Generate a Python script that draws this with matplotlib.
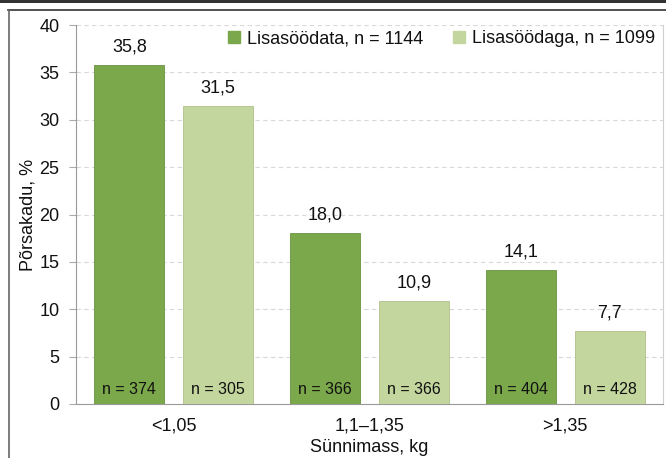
import matplotlib
matplotlib.use("Agg")
import matplotlib.pyplot as plt
import numpy as np
from matplotlib.patches import Rectangle
from matplotlib.lines import Line2D

categories = ["<1,05", "1,1\u20131,35", ">1,35"]
series_names = ["Lisasöödata, n = 1144", "Lisasöödaga, n = 1099"]
without_feed = [35.8, 18.0, 14.1]
with_feed = [31.5, 10.9, 7.7]
n_without = [374, 366, 404]
n_with = [305, 366, 428]
y_ticks = [0, 5, 10, 15, 20, 25, 30, 35, 40]

dark = "#7aa84a"
light = "#c3d69d"

plt.rcParams['font.family'] = ['Liberation Sans', 'DejaVu Sans']
txt = "#111111"

fig = plt.figure(figsize=(6.66, 4.58), dpi=100)
W, H = 666, 458
ax = fig.add_axes([76 / W, 1 - 404 / H, (663 - 76) / W, (404 - 25) / H])

x = np.arange(len(categories))
bw = 0.357
off = 0.227
b1 = ax.bar(x - off, without_feed, bw, color=dark, edgecolor="#6a9440", linewidth=0.6, zorder=3)
b2 = ax.bar(x + off, with_feed, bw, color=light, edgecolor="#aebf8a", linewidth=0.6, zorder=3)

for bars, vals, ns in ((b1, without_feed, n_without), (b2, with_feed, n_with)):
    for r, v, n in zip(bars, vals, ns):
        cx = r.get_x() + r.get_width() / 2
        ax.text(cx, v + 1.0, f"{v:.1f}".replace(".", ","), ha="center", va="bottom",
                fontsize=13, color=txt, zorder=4)
        ax.text(cx, 0.7, f"n = {n}", ha="center", va="bottom", fontsize=11.5,
                color=txt, zorder=4)

ax.set_xlim(-0.5, 2.5)
ax.set_ylim(0, 40)
ax.set_yticks(y_ticks)
ax.set_yticklabels([str(t) for t in y_ticks], fontsize=13, color=txt)
ax.set_xticks(x)
ax.set_xticklabels(categories, fontsize=13, color=txt)
ax.tick_params(axis="x", length=0, pad=10)
ax.tick_params(axis="y", length=5, color="#aaaaaa", pad=7)
ax.yaxis.grid(True, linestyle=(0, (4, 3)), color="#d8d8d8", linewidth=0.8, zorder=0)
ax.set_axisbelow(True)
ax.spines["right"].set_color("#d0d0d0")
ax.spines["right"].set_linewidth(0.8)
ax.spines["left"].set_color("#999999")
ax.spines["bottom"].set_color("#999999")
ax.spines["top"].set_visible(False)

ax.set_ylabel("Põrsakadu, %", fontsize=13, labelpad=2, color=txt)
ax.set_xlabel("Sünnimass, kg", fontsize=13, labelpad=3, color=txt)

handles = [Line2D([], [], marker="s", linestyle="none", markersize=9, markerfacecolor=dark, markeredgecolor=dark),
           Line2D([], [], marker="s", linestyle="none", markersize=9, markerfacecolor=light, markeredgecolor=light)]
ax.legend(handles, series_names, loc="upper right", ncol=2, frameon=False, fontsize=13,
          handletextpad=-0.3, columnspacing=1.0, bbox_to_anchor=(1.005, 1.015), borderaxespad=0.2,
          labelcolor=txt)

# outer frame
fig.patches.append(Rectangle((0, 1 - 3 / H), 1, 3 / H, transform=fig.transFigure,
                             facecolor="#333333", edgecolor="none"))
fig.lines.append(Line2D([8 / W, 1], [1 - 9.5 / H] * 2, transform=fig.transFigure, color="#333333", linewidth=1.2))
fig.lines.append(Line2D([8.5 / W] * 2, [0, 1 - 9.5 / H], transform=fig.transFigure, color="#666666", linewidth=1.2))

fig.savefig("out.png", dpi=100)
